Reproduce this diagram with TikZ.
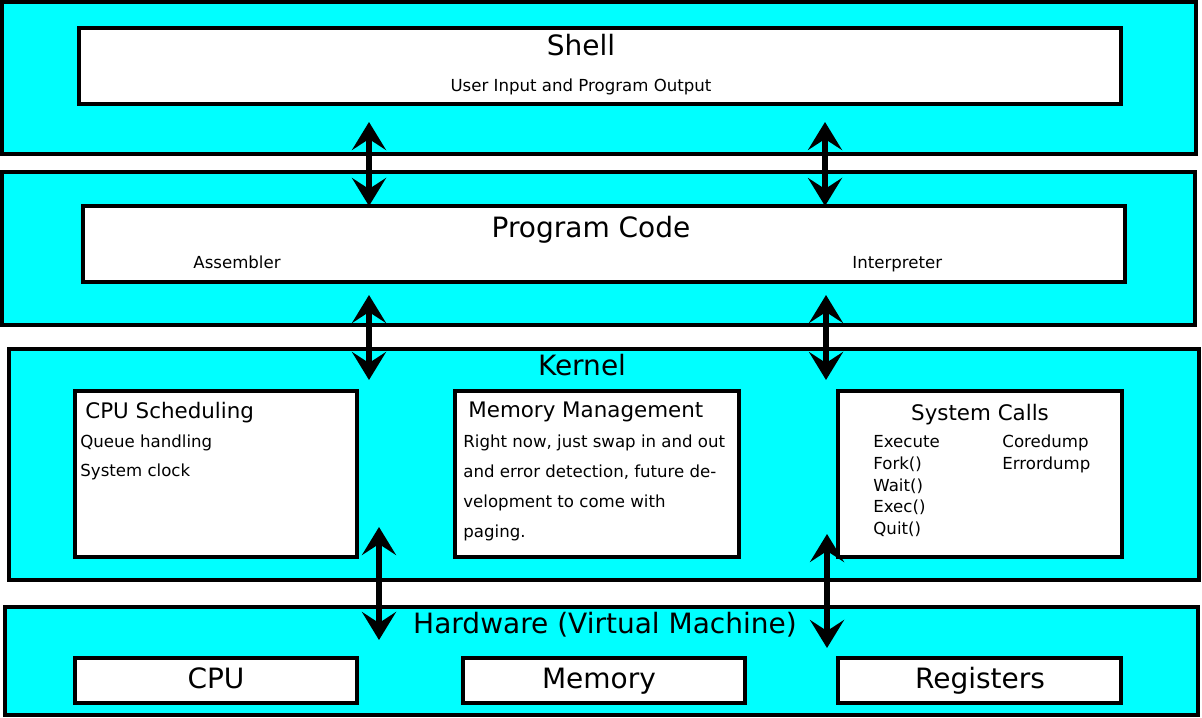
\documentclass[tikz,border=0pt]{standalone}
\usepackage{fontspec}
\setmainfont{DejaVu Sans}
\usetikzlibrary{arrows.meta}

\definecolor{aqua}{RGB}{0,255,255}

\tikzset{
  layer/.style={draw=black, line width=2pt, fill=aqua, inner sep=0pt},
  unit/.style={draw=black, line width=2pt, fill=white, inner sep=0pt},
  bigtitle/.style={font=\fontsize{14}{16}\selectfont, inner sep=0pt},
  boxtitle/.style={font=\fontsize{10.7}{12}\selectfont, inner sep=0pt},
  note/.style={font=\fontsize{8.3}{10}\selectfont, inner sep=0pt},
  link/.style={{Stealth[length=14pt,width=17pt,inset=5.5pt]}-{Stealth[length=14pt,width=17pt,inset=5.5pt]}, line width=3.3pt},
}

\begin{document}
\begin{tikzpicture}[x=0.5pt, y=-0.5pt]
  \useasboundingbox (0,0) rectangle (1202,717);

  % Shell
  \node[layer, minimum width=597pt, minimum height=76pt] (shell) at (599,78) {};
  \node[unit, minimum width=521pt, minimum height=38pt] (shellbox) at (600,66) {};
  \node[bigtitle, anchor=base] (shelltitle) at (581,56) {Shell};
  \node[note, anchor=base] (shelltext) at (581,91) {User Input and Program Output};

  % Program code
  \node[layer, minimum width=596.5pt, minimum height=76.5pt] (code) at (598.5,248.5) {};
  \node[unit, minimum width=521pt, minimum height=38pt] (codebox) at (604,244) {};
  \node[bigtitle, anchor=base] (codetitle) at (591,237) {Program Code};
  \node[note, anchor=base west] (asm) at (193,268) {Assembler};
  \node[note, anchor=base west] (interp) at (852,268) {Interpreter};

  % Kernel
  \node[layer, minimum width=595pt, minimum height=115.5pt] (kernel) at (604,464.5) {};
  \node[bigtitle, anchor=base] (kerneltitle) at (582,375) {Kernel};
  \node[unit, minimum width=141pt, minimum height=83pt] (sched) at (216,474) {};
  \node[unit, minimum width=142pt, minimum height=83pt] (memman) at (597,474) {};
  \node[unit, minimum width=142pt, minimum height=83pt] (syscalls) at (980,474) {};

  \node[boxtitle, anchor=base west] (schedtitle) at (85,418) {CPU Scheduling};
  \node[note, anchor=base west] (queue) at (80,447) {Queue handling};
  \node[note, anchor=base west] (clock) at (80,476) {System clock};

  \node[boxtitle, anchor=base west] (memtitle) at (468,417) {Memory Management};
  \node[note, anchor=base west] (mem1) at (463,447) {Right now, just swap in and out};
  \node[note, anchor=base west] (mem2) at (463,477) {and error detection, future de-};
  \node[note, anchor=base west] (mem3) at (463,507) {velopment to come with};
  \node[note, anchor=base west] (mem4) at (463,537) {paging.};

  \node[boxtitle, anchor=base] (systitle) at (980,420) {System Calls};
  \node[note, anchor=base west] (execute) at (873,447) {Execute};
  \node[note, anchor=base west] (fork) at (873,469) {Fork()};
  \node[note, anchor=base west] (wait) at (873,491) {Wait()};
  \node[note, anchor=base west] (exec) at (873,512.5) {Exec()};
  \node[note, anchor=base west] (quit) at (873,534) {Quit()};
  \node[note, anchor=base west] (coredump) at (1002,447) {Coredump};
  \node[note, anchor=base west] (errordump) at (1002,469) {Errordump};

  % Hardware
  \node[layer, minimum width=596.5pt, minimum height=54pt] (hw) at (601.5,661) {};
  \node[bigtitle, anchor=base] (hwtitle) at (605,633) {Hardware (Virtual Machine)};
  \node[unit, minimum width=141pt, minimum height=22.5pt] (cpu) at (216,680.5) {};
  \node[unit, minimum width=141pt, minimum height=22.5pt] (memory) at (604,680.5) {};
  \node[unit, minimum width=141.5pt, minimum height=22.5pt] (regs) at (979.5,680.5) {};
  \node[bigtitle, anchor=base] (cputext) at (216,688) {CPU};
  \node[bigtitle, anchor=base] (memorytext) at (599,688) {Memory};
  \node[bigtitle, anchor=base] (regstext) at (980,688) {Registers};

  % arrow ends
  \coordinate (s1) at (369,122);  \coordinate (c1) at (369,206);
  \coordinate (s2) at (825,122);  \coordinate (c2) at (825,206);
  \coordinate (c3) at (369,295);  \coordinate (k3) at (369,380);
  \coordinate (c4) at (826,295);  \coordinate (k4) at (826,380);
  \coordinate (k5) at (379,527);  \coordinate (h5) at (379,640);
  \coordinate (k6) at (827,534);  \coordinate (h6) at (827,648);

  \draw[link] (s1) -- (c1);
  \draw[link] (s2) -- (c2);
  \draw[link] (c3) -- (k3);
  \draw[link] (c4) -- (k4);
  \draw[link] (k5) -- (h5);
  \draw[link] (k6) -- (h6);
\end{tikzpicture}
\end{document}
